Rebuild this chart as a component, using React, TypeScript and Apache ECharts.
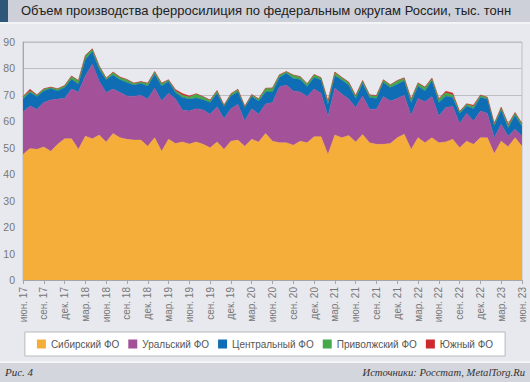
import React, { useEffect, useRef } from "react";
import * as echarts from "echarts";

const TITLE = "Объем производства ферросилиция по федеральным округам России, тыс. тонн";
const SERIES_NAMES = ["Сибирский ФО", "Уральский ФО", "Центральный ФО", "Приволжский ФО", "Южный ФО"];
const COLORS = ["#f6ae3b", "#a35199", "#0e6db4", "#46a94a", "#cc2a2e"];

const MONTHS = ["июн.", "июл.", "авг.", "сен.", "окт.", "ноя.", "дек.", "янв.", "фев.", "мар.", "апр.", "май"];
const START_YEAR = 17;
const N_POINTS = 73;
const categories: string[] = [];
for (let i = 0; i < N_POINTS; i++) {
  const m = i % 12;
  const yr = START_YEAR + Math.floor((i + 5) / 12);
  categories.push(`${MONTHS[m]} ${yr}`);
}

const siberian = [
  47.5, 49.7, 49.4, 50.3, 48.7, 51.3, 53.4, 53.4, 49.4, 54.4, 53.4, 54.8,
  52.2, 55.4, 53.8, 53.2, 52.9, 52.9, 50.6, 53.8, 48.7, 53.2, 51.6, 52.2,
  51.4, 52.2, 51.3, 50.0, 52.2, 49.4, 52.5, 52.9, 50.6, 53.2, 52.2, 55.4,
  52.5, 51.9, 51.9, 51.0, 52.5, 51.9, 54.2, 54.2, 47.5, 54.8, 53.8, 54.6,
  52.2, 55.0, 51.9, 51.3, 51.3, 51.6, 53.8, 55.1, 49.4, 53.8, 51.9, 53.8,
  51.9, 52.2, 53.2, 50.0, 52.5, 51.3, 53.8, 53.8, 47.8, 52.5, 50.4, 53.8,
  50.6,
];
const ural = [
  16.0, 16.1, 15.2, 16.8, 19.4, 17.1, 15.3, 18.8, 21.7, 22.8, 28.2, 20.3,
  18.7, 16.8, 17.1, 16.4, 16.5, 17.0, 17.8, 18.7, 19.0, 17.4, 16.8, 12.1,
  12.5, 12.6, 13.0, 12.7, 13.3, 11.6, 12.3, 13.6, 9.5, 11.6, 10.5, 11.2,
  14.6, 21.1, 21.8, 20.5, 18.6, 17.5, 18.0, 16.4, 14.3, 17.7, 16.5, 13.8,
  13.0, 14.6, 12.7, 13.3, 18.1, 16.1, 14.8, 14.8, 12.8, 14.8, 15.5, 15.6,
  10.1, 13.0, 12.4, 9.2, 10.5, 8.8, 10.1, 9.2, 6.0, 6.4, 4.0, 3.2,
  3.8,
];
const central = [
  4.9, 5.1, 4.8, 4.4, 4.3, 3.1, 4.1, 3.7, 3.0, 6.3, 4.7, 4.6,
  4.8, 5.3, 4.8, 5.1, 4.3, 4.4, 5.0, 5.3, 5.7, 4.5, 2.5, 4.7,
  4.5, 4.0, 3.9, 4.4, 5.1, 4.6, 4.8, 4.6, 5.1, 4.6, 5.0, 4.5,
  4.0, 3.6, 4.5, 4.7, 4.7, 3.8, 4.4, 5.0, 4.7, 4.7, 5.3, 5.3,
  3.4, 4.8, 4.4, 4.0, 5.3, 5.1, 5.4, 5.4, 4.8, 4.8, 4.1, 5.9,
  5.1, 4.4, 3.4, 3.8, 2.8, 4.7, 5.1, 5.4, 4.4, 5.4, 3.2, 5.3,
  3.6,
];
const volga = [
  0.8, 0.6, 0.5, 0.7, 0.4, 0.7, 0.6, 1.1, 1.2, 1.3, 1.0, 1.1,
  0.5, 1.0, 0.9, 1.0, 0.6, 0.6, 0.9, 0.9, 0.9, 0.5, 0.6, 0.9,
  0.8, 1.5, 1.0, 0.8, 0.9, 0.4, 0.7, 0.9, 0.4, 0.6, 0.7, 1.3,
  1.4, 0.9, 0.5, 1.2, 1.0, 0.9, 1.0, 0.8, 0.9, 1.3, 0.9, 1.0,
  1.0, 0.9, 0.9, 1.0, 0.9, 0.9, 1.3, 1.0, 1.3, 1.0, 1.3, 0.9,
  1.3, 1.2, 1.0, 0.5, 0.7, 0.8, 0.8, 0.6, 0.8, 0.9, 0.8, 0.9,
  1.0,
];
const south = [
  0.15, 0.6, 0.15, 0.15, 0.15, 0.15, 0.15, 0.15, 0.15, 0.15, 0.15, 0.15,
  0.15, 0.15, 0.15, 0.15, 0.15, 0.15, 0.15, 0.15, 0.15, 0.15, 0.5, 0.6,
  0.4, 0.15, 0.15, 0.15, 0.15, 0.15, 0.15, 0.15, 0.15, 0.15, 0.15, 0.15,
  0.15, 0.15, 0.15, 0.15, 0.15, 0.15, 0.15, 0.15, 0.3, 0.15, 0.15, 0.15,
  0.15, 0.15, 0.15, 0.15, 0.15, 0.15, 0.15, 0.15, 0.15, 0.15, 0.15, 0.15,
  0.15, 0.6, 0.7, 0.2, 0.15, 0.5, 0.15, 0.15, 0.15, 0.15, 0.6, 0.15,
  0.15,
];
const SERIES_DATA = [siberian, ural, central, volga, south];

const FONT = "'Liberation Sans', Arial, sans-serif";
const SERIF = "'Liberation Serif', 'Times New Roman', serif";

export default function App() {
  const ref = useRef<HTMLDivElement>(null);
  useEffect(() => {
    if (!ref.current) return;
    const chart = echarts.init(ref.current, undefined, { renderer: "svg" });
    const option: any = {
      animation: false,
      backgroundColor: "#e8e9ee",
      textStyle: { fontFamily: FONT },
      title: {
        text: TITLE,
        left: 21,
        top: 4,
        padding: 0,
        textStyle: { fontSize: 13, fontWeight: "normal", color: "#222", fontFamily: FONT },
      },
      graphic: [
        { type: "rect", left: 0, top: 0, shape: { width: 530, height: 22 }, style: { fill: "#cdd0d8" }, silent: true },
        { type: "rect", left: 0, top: 0, shape: { width: 8, height: 22 }, style: { fill: "#2c5778" }, silent: true },
        { type: "rect", left: 0, top: 22, shape: { width: 530, height: 2 }, style: { fill: "#f3f4f6" }, silent: true },
        { type: "rect", left: 0, top: 361, shape: { width: 530, height: 2 }, style: { fill: "#f3f4f6" }, silent: true },
        { type: "rect", left: 0, top: 363, shape: { width: 530, height: 19 }, style: { fill: "#d3d6dd" }, silent: true },
        {
          type: "text",
          x: 5,
          y: 372,
          style: { text: "Рис. 4", fill: "#333", font: `italic 11px ${SERIF}`, textVerticalAlign: "middle", verticalAlign: "middle" },
          silent: true,
        },
        {
          type: "text",
          x: 525,
          y: 372,
          style: {
            text: "Источники: Росстат, MetalTorg.Ru",
            fill: "#333",
            font: `italic 10.6px ${SERIF}`,
            textAlign: "right",
            align: "right",
            textVerticalAlign: "middle",
            verticalAlign: "middle",
          },
          silent: true,
        },
      ],
      legend: {
        data: SERIES_NAMES,
        left: "center",
        top: 332,
        padding: [7, 12, 7, 12],
        backgroundColor: "#ffffff",
        borderColor: "#b8b8bc",
        borderWidth: 1,
        icon: "rect",
        itemWidth: 9,
        itemHeight: 9,
        itemGap: 9,
        textStyle: { fontSize: 10, color: "#555", fontFamily: FONT },
      },
      grid: {
        left: 23,
        right: 8,
        top: 42,
        bottom: 102,
        show: true,
        borderColor: "#bdbdc2",
        borderWidth: 1,
        backgroundColor: "transparent",
      },
      xAxis: {
        type: "category",
        data: categories,
        boundaryGap: false,
        axisLine: { lineStyle: { color: "#a5a5aa" } },
        axisTick: { interval: 2, length: 4, lineStyle: { color: "#a5a5aa" } },
        axisLabel: { interval: 2, rotate: 90, fontSize: 10, color: "#777", margin: 7, fontFamily: FONT },
      },
      yAxis: {
        type: "value",
        min: 0,
        max: 90,
        interval: 10,
        axisLine: { show: true, lineStyle: { color: "#a5a5aa" } },
        axisTick: { show: false },
        axisLabel: { fontSize: 10.5, color: "#777", margin: 8, fontFamily: FONT },
        splitLine: { lineStyle: { color: "#bdbdc2", width: 1 } },
      },
      series: SERIES_NAMES.map((name, k) => ({
        name,
        type: "line",
        stack: "total",
        data: SERIES_DATA[k],
        showSymbol: false,
        symbol: "none",
        itemStyle: { color: COLORS[k] },
        lineStyle: { width: 0.5, color: COLORS[k] },
        areaStyle: { color: COLORS[k], opacity: 1 },
      })),
    };
    chart.setOption(option);
    return () => chart.dispose();
  }, []);
  return <div ref={ref} style={{ position: "fixed", left: 0, top: 0, width: 530, height: 382 }} />;
}
